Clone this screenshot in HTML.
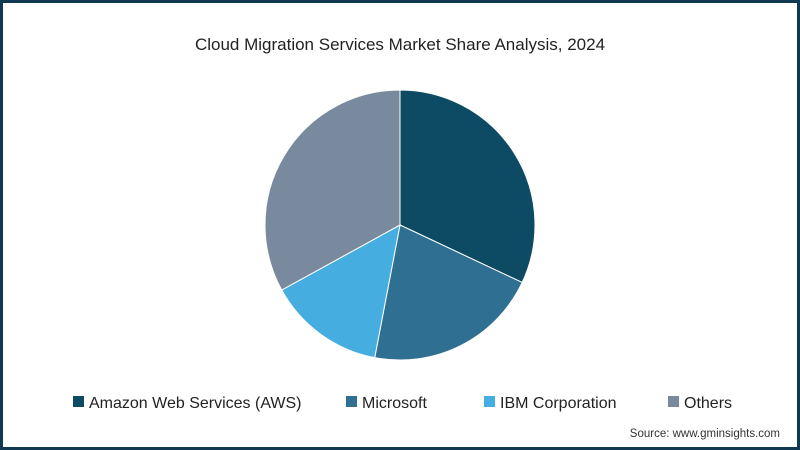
<!DOCTYPE html>
<html><head><meta charset="utf-8"><style>
body{margin:0;width:800px;height:450px;overflow:hidden;background:#fff;font-family:"Liberation Sans",sans-serif}
#frame{position:absolute;left:0;top:0;width:794px;height:444px;border:3px solid #0f3a52;background:#fff}
</style></head><body>
<div id="frame"></div>
<svg id="chart" width="800" height="450" style="position:absolute;left:0;top:0">
<text x="400" y="50" text-anchor="middle" font-size="17" fill="#222">Cloud Migration Services Market Share Analysis, 2024</text>
<g id="slices"></g>
<g id="legend"></g>
<text x="780" y="437" text-anchor="end" font-size="11.5" fill="#333">Source: www.gminsights.com</text>
</svg>
<script>
const categories=["Amazon Web Services (AWS)","Microsoft","IBM Corporation","Others"];
const values=[32,21,14,33];
const colors=["#0d4a63","#2e6f92","#45ade0","#7a8a9e"];
const cx=400,cy=225,r=135;
const ns="http://www.w3.org/2000/svg";
const g=document.getElementById('slices');
const total=values.reduce((a,b)=>a+b,0);
let a0=0;
values.forEach((v,i)=>{
  const a1=a0+v/total*2*Math.PI;
  const x0=cx+r*Math.sin(a0),y0=cy-r*Math.cos(a0),x1=cx+r*Math.sin(a1),y1=cy-r*Math.cos(a1);
  const p=document.createElementNS(ns,'path');
  p.setAttribute('d',`M${cx},${cy}L${x0},${y0}A${r},${r} 0 ${a1-a0>Math.PI?1:0} 1 ${x1},${y1}Z`);
  p.setAttribute('fill',colors[i]);p.setAttribute('stroke','#fff');p.setAttribute('stroke-width','1');
  
  
  g.appendChild(p);a0=a1;
});
const lg=document.getElementById('legend');
const lx=[73,346,484,668];
categories.forEach((c,i)=>{
  const e=document.createElementNS(ns,'g');
  
  
  const s=document.createElementNS(ns,'rect');
  s.setAttribute('x',lx[i]);s.setAttribute('y',396);s.setAttribute('width',11);s.setAttribute('height',11);s.setAttribute('fill',colors[i]);
  const t=document.createElementNS(ns,'text');
  t.setAttribute('x',lx[i]+16);t.setAttribute('y',408);t.setAttribute('font-size','16');t.setAttribute('fill','#222');
  t.textContent=c;
  e.appendChild(s);e.appendChild(t);lg.appendChild(e);
});
</script>
</body></html>
